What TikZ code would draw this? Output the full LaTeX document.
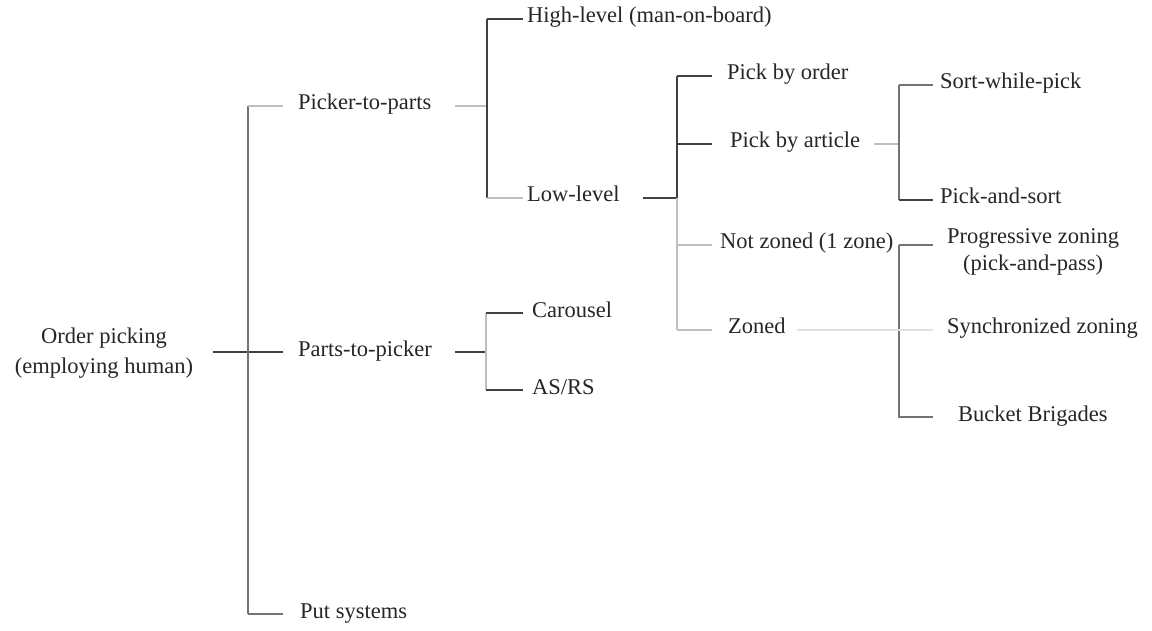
\documentclass[tikz,border=0pt]{standalone}
\usepackage{fontspec}
\setmainfont{Liberation Serif}
\begin{document}
\begin{tikzpicture}[x=1pt,y=-1pt]
\tikzset{
  lbl/.style={anchor=west, inner sep=0pt, text height=14pt, text depth=6pt, font=\fontsize{22.5}{29}\selectfont, text=black!85},
  mlbl/.style={inner sep=0pt, font=\fontsize{22.5}{27}\selectfont, text=black!85, align=center},
  dk/.style={draw=black!75, line width=1.3pt},
  md/.style={draw=black!55, line width=1.2pt},
  lt/.style={draw=black!25, line width=1.2pt},
  vlt/.style={draw=black!12, line width=1.2pt}
}
\useasboundingbox (0,0) rectangle (1152,631);
\fill[white] (0,0) rectangle (1152,631);

% nodes
\node[mlbl, font=\fontsize{22.5}{30}\selectfont] (root) at (104,353) {Order picking\\(employing human)};
\node[lbl] (ptp) at (298,106) {Picker-to-parts};
\node[lbl] (pkr) at (298,352) {Parts-to-picker};
\node[lbl] (put) at (300,614) {Put systems};
\node[lbl] (high) at (527,19) {High-level (man-on-board)};
\node[lbl] (low) at (527,198) {Low-level};
\node[lbl] (car) at (532,313) {Carousel};
\node[lbl] (asrs) at (532,390) {AS/RS};
\node[lbl] (order) at (727,76) {Pick by order};
\node[lbl] (article) at (730,144) {Pick by article};
\node[lbl] (nz) at (720,245) {Not zoned (1 zone)};
\node[lbl] (zoned) at (728,330) {Zoned};
\node[lbl] (swp) at (940,85) {Sort-while-pick};
\node[lbl] (pas) at (940,200) {Pick-and-sort};
\node[mlbl, anchor=west] (prog) at (947,252) {Progressive zoning\\(pick-and-pass)};
\node[lbl] (sync) at (947,330) {Synchronized zoning};
\node[lbl] (bucket) at (958,417) {Bucket Brigades};

% junction columns and stub starts
\coordinate (A) at (248,0);
\coordinate (B) at (487,0);
\coordinate (B2) at (486,0);
\coordinate (C) at (677,0);
\coordinate (D) at (899,0);
\coordinate (E) at (933,0);
\coordinate (s0) at (213,352);
\coordinate (s1) at (455,106);
\coordinate (s2) at (455,352);
\coordinate (s3) at (643,198);
\coordinate (s4) at (874,144);
\coordinate (s5) at (797,330);

% level 1
\draw[dk] (s0) -- ([xshift=-15pt]pkr.west);
\draw[md] (A |- ptp.west) -- (A |- put.west);
\draw[lt] (A |- ptp.west) -- ([xshift=-15pt]ptp.west);
\draw[md] (A |- put.west) -- ([xshift=-17pt]put.west);

% picker-to-parts
\draw[lt] (s1) -- (B |- ptp.west);
\draw[dk] (B |- high.west) -- (B |- low.west);
\draw[dk] (B |- high.west) -- ([xshift=-4pt]high.west);
\draw[lt] (B |- low.west) -- ([xshift=-4pt]low.west);

% parts-to-picker
\draw[dk] (s2) -- (B2 |- pkr.west);
\draw[lt] (B2 |- car.west) -- (B2 |- asrs.west);
\draw[dk] (B2 |- car.west) -- ([xshift=-9pt]car.west);
\draw[dk] (B2 |- asrs.west) -- ([xshift=-9pt]asrs.west);

% low-level
\draw[dk, line width=1.6pt] (s3) -- (C |- low.west);
\draw[dk] (C |- order.west) -- (C |- low.west);
\draw[lt] (C |- low.west) -- (C |- zoned.west);
\draw[dk] (C |- order.west) -- ([xshift=-15pt]order.west);
\draw[dk] (C |- article.west) -- ([xshift=-18pt]article.west);
\draw[lt] (C |- nz.west) -- ([xshift=-8pt]nz.west);
\draw[lt] (C |- zoned.west) -- ([xshift=-16pt]zoned.west);

% pick by article
\draw[lt] (s4) -- (D |- article.west);
\draw[md] (D |- swp.west) -- (D |- pas.west);
\draw[md] (D |- swp.west) -- ([xshift=-7pt]swp.west);
\draw[dk] (D |- pas.west) -- ([xshift=-7pt]pas.west);

% zoning
\draw[md] (D |- nz.west) -- (E |- nz.west);
\draw[md] (D |- nz.west) -- (D |- bucket.west) -- ([xshift=-25pt]bucket.west);
\draw[vlt] (s5) -- ([xshift=-14pt]sync.west);
\end{tikzpicture}
\end{document}
